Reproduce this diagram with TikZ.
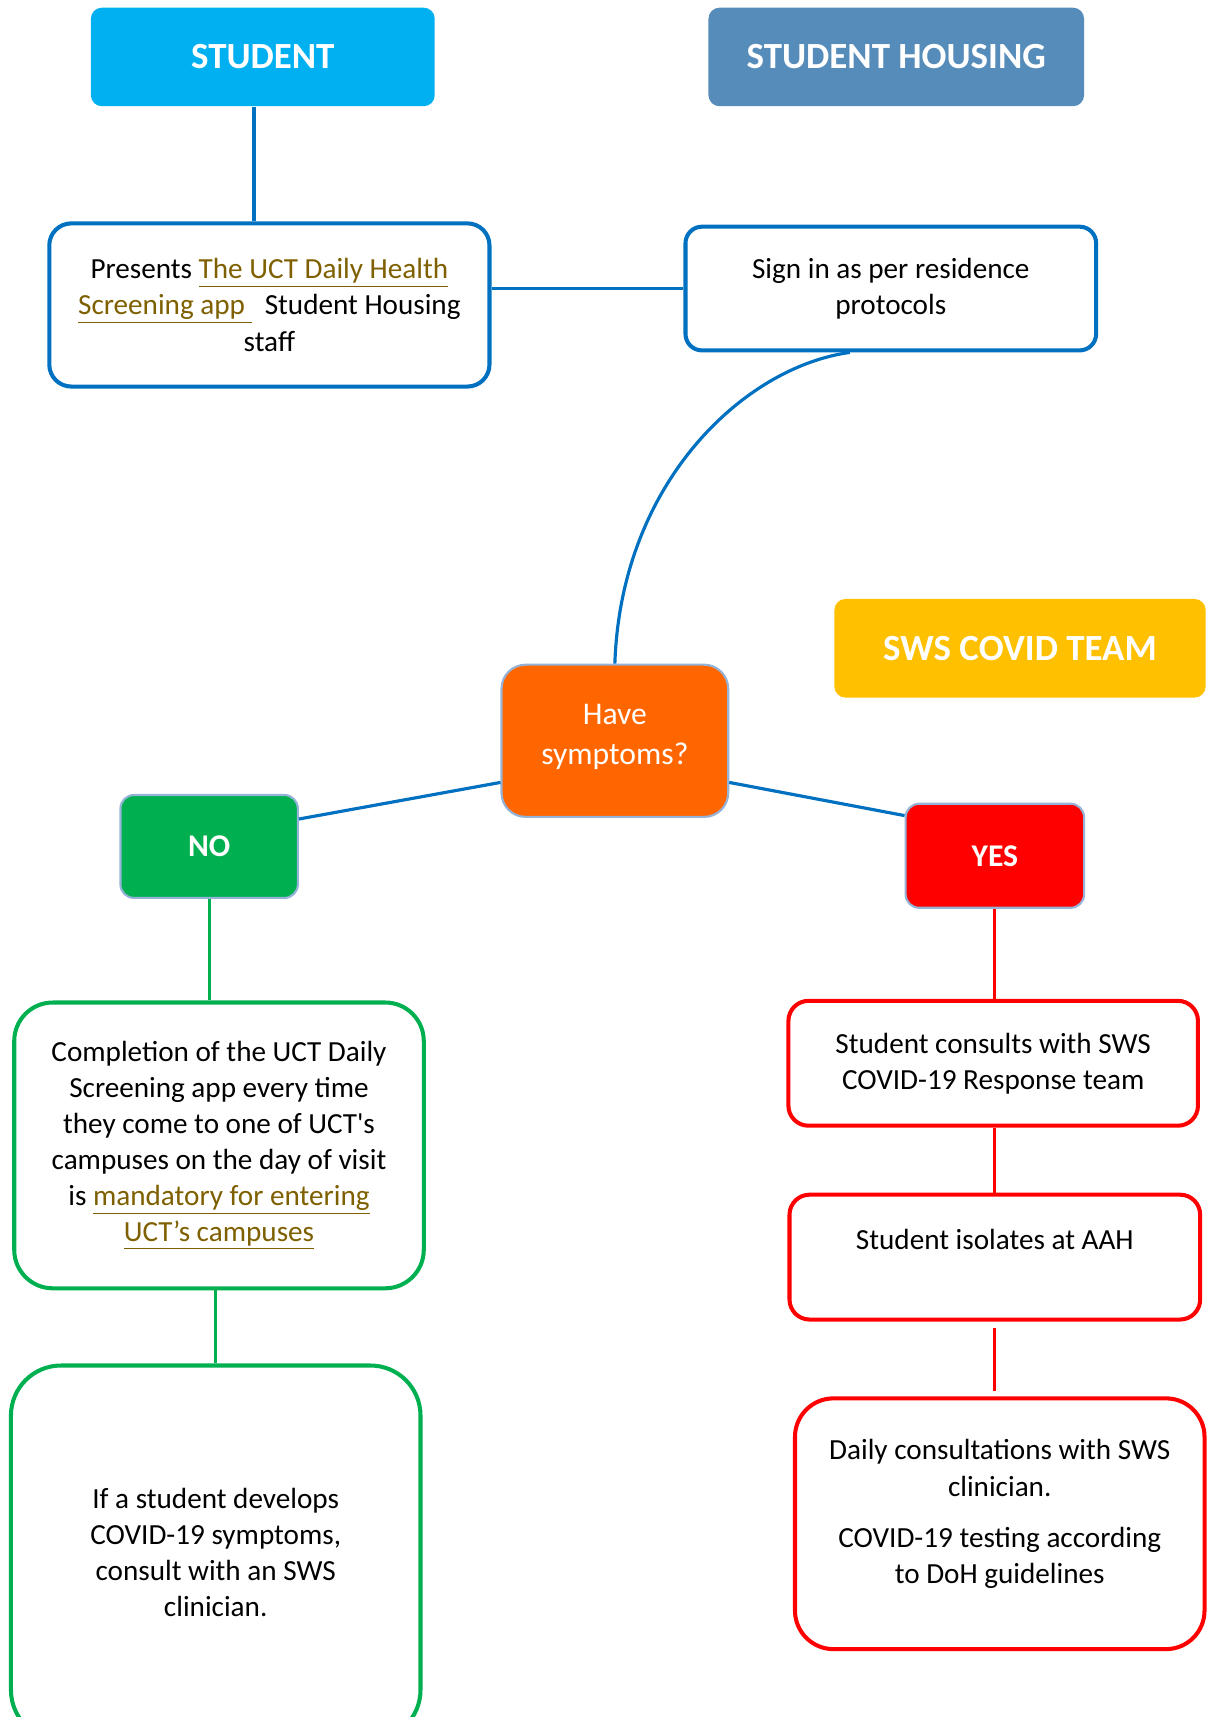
\documentclass[tikz,border=0pt]{standalone}
\usepackage{fontspec}
\setmainfont{Carlito}[Ligatures=TeXOff]

\definecolor{studentblue}{HTML}{00B0F0}
\definecolor{housingblue}{HTML}{568CBA}
\definecolor{teamgold}{HTML}{FFC000}
\definecolor{askorange}{HTML}{FF6600}
\definecolor{nogreen}{HTML}{00B050}
\definecolor{yesred}{HTML}{FF0000}
\definecolor{lineblue}{HTML}{0070C0}
\definecolor{edgeblue}{HTML}{95B3D7}
\definecolor{linkbrown}{HTML}{7F6000}

\def\px{0.0219cm}
\newcommand{\lnk}[1]{\textcolor{linkbrown}{\underline{#1}}}

\tikzset{
  boxsize/.style 2 args={minimum width=#1*\px, minimum height=#2*\px},
  header/.style={rectangle, rounded corners=0.22cm, text=white, font=\fontsize{21}{25}\selectfont\bfseries},
  answer/.style={rectangle, rounded corners=0.27cm, draw=edgeblue, line width=1.2pt, text=white, font=\fontsize{18}{22.4}\selectfont\bfseries},
  stepbox/.style={rectangle, line width=2.3pt, fill=white, align=center, font=\fontsize{16.6}{20.5}\selectfont},
  blueline/.style={draw=lineblue, line width=1.8pt},
  greenline/.style={draw=nogreen, line width=1.8pt},
  redline/.style={draw=yesred, line width=1.8pt},
}

\begin{document}
\begin{tikzpicture}[x=\px, y=-\px]
  \useasboundingbox (0,0) rectangle (1102,1568);
  \clip (0,0) rectangle (1102,1568);

  % headers
  \node[header, fill=studentblue, boxsize={314}{90}] (student) at (240,52) {STUDENT};
  \node[header, fill=housingblue, boxsize={343}{90}] (housing) at (818.5,52) {STUDENT HOUSING};
  \node[header, fill=teamgold, boxsize={339}{90}] (team) at (931.5,592) {SWS COVID TEAM};

  % blue part
  \node[stepbox, draw=lineblue, rounded corners=0.44cm, boxsize={402}{149}] (present) at (246,278.5)
    {Presents \lnk{The UCT Daily Health}\\\lnk{Screening app\ }\ \ Student Housing\\staff};
  \node[stepbox, draw=lineblue, rounded corners=0.33cm, boxsize={375}{113}] (signin) at (813.5,263.5)
    {Sign in as per residence\\protocols};
  \node[rectangle, rounded corners=0.48cm, draw=edgeblue, line width=1.2pt, fill=askorange, text=white,
        align=center, font=\fontsize{18}{22.4}\selectfont, boxsize={207}{139}] (symptoms) at (561.5,676.5)
    {Have\\symptoms?\\[-15pt]\mbox{}};

  % answers
  \node[answer, fill=nogreen, boxsize={162}{94}] (no) at (191,773) {NO};
  \node[answer, fill=yesred, boxsize={163}{95}] (yes) at (908.5,781.5) {YES};

  % green part
  \node[stepbox, draw=nogreen, rounded corners=0.77cm, boxsize={374}{261}] (complete) at (200,1046)
    {Completion of the UCT Daily\\Screening app every time\\they come to one of UCT's\\campuses on the day of visit\\is \lnk{mandatory for entering}\\\lnk{UCT’s campuses}};
  \node[stepbox, draw=nogreen, rounded corners=1cm, boxsize={374}{342}] (develop) at (197,1418)
    {If a student develops\\COVID-19 symptoms,\\consult with an SWS\\clinician.};

  % red part
  \node[stepbox, draw=yesred, rounded corners=0.4cm, boxsize={374}{114}] (consult) at (907,971)
    {Student consults with SWS\\COVID-19 Response team};
  \node[stepbox, draw=yesred, rounded corners=0.4cm, boxsize={375}{114}] (isolate) at (908.5,1148)
    {Student isolates at AAH\\\mbox{}};
  \node[stepbox, draw=yesred, rounded corners=0.77cm, boxsize={374}{229}] (daily) at (913,1391.5)
    {Daily consultations with SWS\\clinician.\\[8.6pt]COVID-19 testing according\\to DoH guidelines\\[-6.5pt]\mbox{}};

  % connectors
  \draw[blueline] ([xshift=-0.175cm]student.south) -- ([xshift=-0.175cm]student.south |- present.north);
  \draw[blueline] (signin.west -| present.east) -- (signin.west);
  \draw[blueline] ([xshift=-0.82cm]signin.south) .. controls (680,335) and (567,440) .. (symptoms.north);
  \draw[blueline] (symptoms.200) -- (no.17);
  \draw[blueline] (symptoms.-20) -- (yes.156);
  \draw[greenline] (no.south) -- (no.south |- complete.north);
  \draw[greenline] (develop.north |- complete.south) -- (develop.north);
  \draw[redline] (yes.south) -- (yes.south |- consult.north);
  \draw[redline] (isolate.north |- consult.south) -- (isolate.north);
  \draw[redline, shorten <=0.12cm, shorten >=0.11cm] (isolate.south) -- (isolate.south |- daily.north);
\end{tikzpicture}
\end{document}
